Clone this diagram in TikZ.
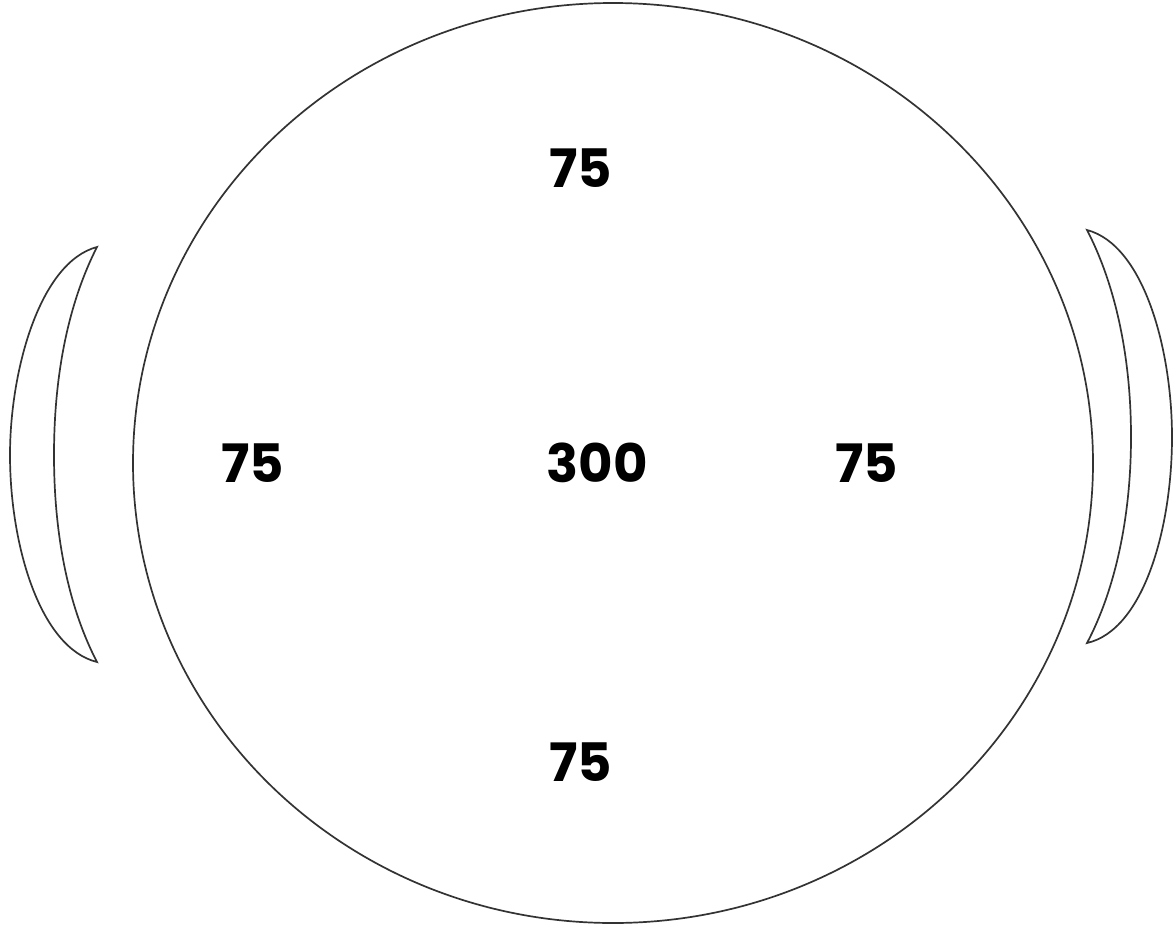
\documentclass[tikz,border=0pt]{standalone}
\usepackage{fontspec}
\setmainfont{Poppins}
\begin{document}
\begin{tikzpicture}[x=1pt,y=-1pt,
  outline/.style={draw=black!80,line width=1.7pt,fill=white},
  num/.style={font=\fontsize{53}{56}\selectfont\bfseries,text=black,inner sep=0pt}]
\useasboundingbox (0,0) rectangle (1173,924);
\draw[outline] (613,463) ellipse [x radius=480,y radius=460];
\draw[outline] (97,247) .. controls (40,262) and (10,370) .. (10,455)
  .. controls (10,545) and (40,648) .. (97,662)
  .. controls (70,610) and (54,540) .. (54,455)
  .. controls (54,370) and (70,300) .. (97,247) -- cycle;
\draw[outline] (1087,230) .. controls (1144,245) and (1172,350) .. (1172,437)
  .. controls (1172,527) and (1144,630) .. (1087,643)
  .. controls (1114,592) and (1131,520) .. (1131,437)
  .. controls (1131,353) and (1114,282) .. (1087,230) -- cycle;
\node[num] (top) at (581,168) {75};
\node[num] (left) at (253,463) {75};
\node[num] (center) at (597,463) {300};
\node[num] (right) at (867,463) {75};
\node[num] (bottom) at (581,762) {75};
\end{tikzpicture}
\end{document}
